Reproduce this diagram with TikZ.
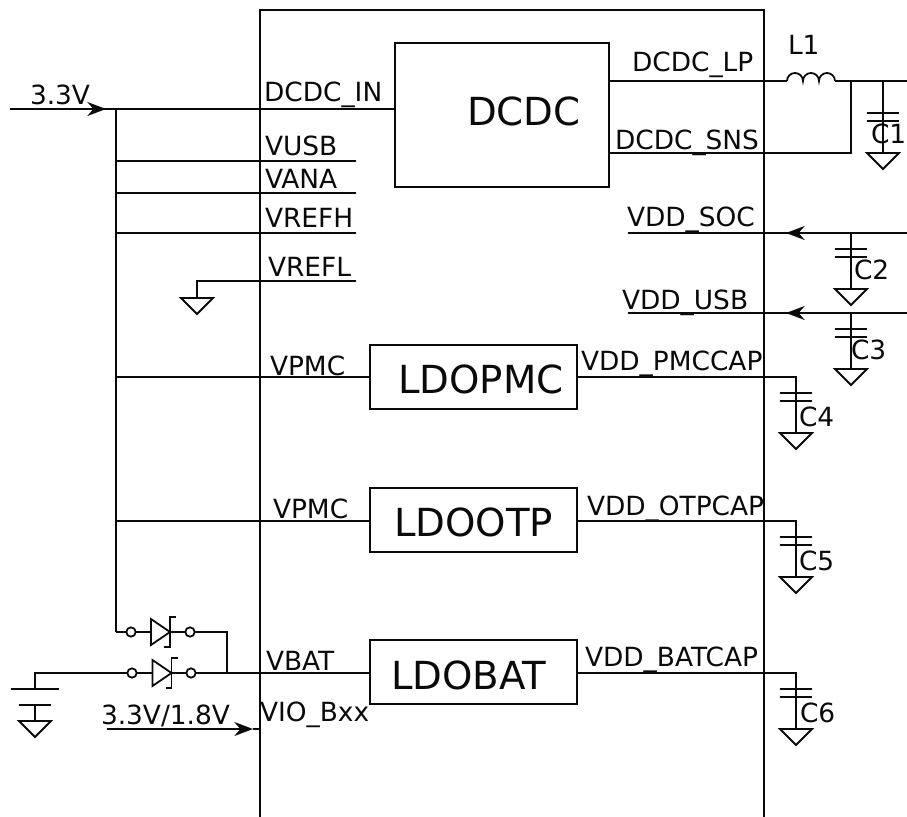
\documentclass[tikz,border=0pt]{standalone}
\usepackage{fontspec}
\setmainfont{DejaVu Sans}
\usetikzlibrary{arrows.meta}
\definecolor{ink}{HTML}{0A0A0A}
\tikzset{
  x=0.75pt,y=-0.75pt,
  wire/.style={draw=ink,line width=1.35pt},
  lbl/.style={anchor=base west,inner sep=0pt,outer sep=0pt,font=\fontsize{19.8pt}{21pt}\selectfont,text=ink},
  big/.style={anchor=base west,inner sep=0pt,outer sep=0pt,font=\fontsize{29pt}{32pt}\selectfont,text=ink},
  blockbox/.style={draw=ink,line width=1.35pt,anchor=north west,inner sep=0pt,outer sep=0pt},
  arr/.style={wire,-{Stealth[length=14pt,width=10.5pt,inset=4.5pt]}},
  pin/.style={circle,draw=ink,line width=1.35pt,minimum size=7pt,inner sep=0pt,outer sep=0pt},
  gnd/.pic={\draw[wire,line join=miter] (-16,0) -- (16,0) -- (0,16) -- cycle;},
  capac/.pic={\draw[wire] (-16,-4) -- (16,-4) (-16,4) -- (16,4);},
  diode/.pic={\draw[wire,line join=miter] (-19,-13) -- (0,0) -- (-19,13) -- cycle;
     \draw[wire] (6,-15) -- (0,-15) -- (0,15) -- (-6,15);},
}
\begin{document}
\begin{tikzpicture}
\useasboundingbox (0,0) rectangle (907,817);
% chip outline
\coordinate (chipTL) at (260,10);
\coordinate (chipTR) at (764,10);
\coordinate (chipBL) at (260,817);
\coordinate (chipBR) at (764,817);
\draw[wire] (chipBL) -- (chipTL) -- (chipTR) -- (chipBR);
% blocks
\node[blockbox,minimum width=160.5pt,minimum height=108pt] (dcdc) at (395,43) {};
\node[blockbox,minimum width=155pt,minimum height=48pt] (ldopmc) at (370,345) {};
\node[blockbox,minimum width=155pt,minimum height=48pt] (ldootp) at (370,488) {};
\node[blockbox,minimum width=155pt,minimum height=48pt] (ldobat) at (370,640) {};
\node[big] (tdcdc) at (467,125) {DCDC};
\node[big] (tpmc) at (398,393) {LDOPMC};
\node[big] (totp) at (394,536) {LDOOTP};
\node[big] (tbat) at (391,689) {LDOBAT};
% input rail
\coordinate (inS) at (10,109);
\coordinate (railTop) at (116,109);
\coordinate (railBot) at (116,632);
\coordinate (dcdcIn) at (395,109);
\coordinate (inTip) at (106,109);
\draw[arr] (inS) -- (inTip);
\draw[wire] (inS) -- (dcdcIn);
\draw[wire] (railTop) -- (railBot);
\node[lbl] (l33) at (30,104) {3.3V};
\node[lbl] (ldin) at (264,102) {DCDC\_IN};
% stubs
\coordinate (usbE) at (356,161);
\coordinate (anaE) at (356,193);
\coordinate (refhE) at (356,233);
\coordinate (reflE) at (356,281);
\draw[wire] (116,161) -- (usbE);
\draw[wire] (116,193) -- (anaE);
\draw[wire] (116,233) -- (refhE);
\coordinate (reflG) at (197,298);
\draw[wire] (reflE) -- (197,281) -- (reflG);
\pic at (reflG) {gnd};
\node[lbl] at (265,156) {VUSB};
\node[lbl] at (265,188) {VANA};
\node[lbl] at (265,227) {VREFH};
\node[lbl] at (268,276) {VREFL};
% VPMC
\draw[wire] (116,377) -- (ldopmc.west |- 0,377);
\draw[wire] (116,521) -- (ldootp.west |- 0,521);
\node[lbl] at (270,375) {VPMC};
\node[lbl] at (273,518) {VPMC};
% diodes
\node[pin] (p1a) at (131,632) {};
\node[pin] (p1b) at (190,632) {};
\node[pin] (p2a) at (132,673) {};
\node[pin] (p2b) at (191,673) {};
\coordinate (d1) at (170,632);
\coordinate (d2) at (171.5,673);
\draw[wire] (railBot) -- (p1a);
\draw[wire] (p1a) -- (151,632) (d1) -- (p1b);
\draw[wire] (p1b) -- (227,632) -- (227,673);
\draw[wire] (p2a) -- (152.5,673) (d2) -- (p2b);
\draw[wire] (p2b) -- (ldobat.west |- 0,673);
\pic at (d1) {diode};
\pic at (d2) {diode};
\node[lbl] at (266,670) {VBAT};
% battery
\coordinate (batTop) at (35,673);
\draw[wire] (p2a) -- (batTop) -- (35,689);
\draw[wire] (11,689) -- (59,689);
\draw[wire] (35,705) -- (35,721);
\draw[wire] (19,705) -- (51,705);
\pic at (35,721) {gnd};
% VIO
\coordinate (vioS) at (107,729);
\coordinate (vioT) at (253,729);
\coordinate (vioE) at (260,729);
\draw[arr] (vioS) -- (vioT);
\draw[wire] (vioT) -- (vioE);
\node[lbl] at (101,724) {3.3V/1.8V};
\node[lbl] at (260,721) {VIO\_Bxx};
% DCDC right
\coordinate (lpE) at (787,81);
\draw[wire] (dcdc.east |- 0,81) -- (lpE);
\draw[wire] (lpE) arc[start angle=180,end angle=360,radius=8]
  arc[start angle=180,end angle=360,radius=8] arc[start angle=180,end angle=360,radius=8];
\coordinate (lpR) at (851,81);
\draw[wire] (835,81) -- (907,81);
\draw[wire] (dcdc.east |- 0,153) -- (851,153) -- (lpR);
\node[lbl] at (632,72) {DCDC\_LP};
\node[lbl] at (615,149) {DCDC\_SNS};
\node[lbl] at (788,55) {L1};
% C1
\draw[wire] (883,81) -- (883,153);
\pic at (883,117) {capac};
\pic at (883,153) {gnd};
\node[lbl] at (871,143) {C1};
% VDD_SOC
\coordinate (socW) at (628,233);
\coordinate (rs) at (907,233);
\coordinate (rst) at (786,233);
\draw[wire] (socW) -- (rs);
\draw[arr] (rs) -- (rst);
\node[lbl] at (627,226) {VDD\_SOC};
\draw[wire] (851,233) -- (851,289);
\pic at (851,253) {capac};
\pic at (851,289) {gnd};
\node[lbl] at (854,279) {C2};
% VDD_USB
\coordinate (usbW) at (628,313);
\coordinate (ru) at (907,313);
\coordinate (rut) at (786,313);
\draw[wire] (usbW) -- (ru);
\draw[arr] (ru) -- (rut);
\node[lbl] at (622,309) {VDD\_USB};
\draw[wire] (851,313) -- (851,369);
\pic at (851,333) {capac};
\pic at (851,369) {gnd};
\node[lbl] at (851,359) {C3};
% LDO right side
\draw[wire] (ldopmc.east |- 0,377) -- (796,377) -- (796,433);
\pic at (796,397) {capac};
\pic at (796,433) {gnd};
\node[lbl] at (581,370) {VDD\_PMCCAP};
\node[lbl] at (799,426) {C4};
\draw[wire] (ldootp.east |- 0,521) -- (796,521) -- (796,577);
\pic at (796,541) {capac};
\pic at (796,577) {gnd};
\node[lbl] at (587,515) {VDD\_OTPCAP};
\node[lbl] at (799,570) {C5};
\draw[wire] (ldobat.east |- 0,673) -- (796,673) -- (796,729);
\pic at (796,693) {capac};
\pic at (796,729) {gnd};
\node[lbl] at (585,666) {VDD\_BATCAP};
\node[lbl] at (800,722) {C6};
\end{tikzpicture}
\end{document}
